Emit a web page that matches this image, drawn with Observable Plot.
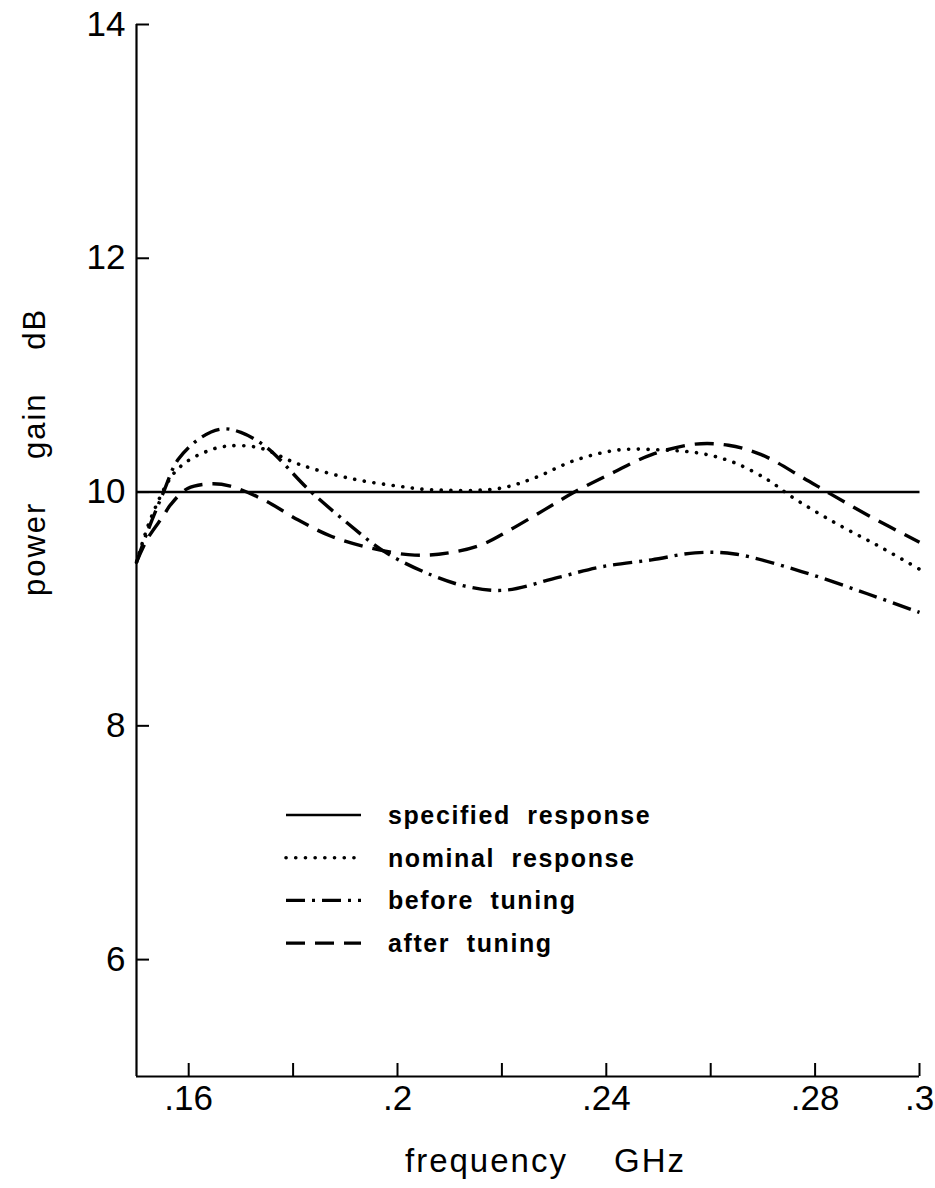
<!DOCTYPE html>
<html><head><meta charset="utf-8">
<script src="https://cdn.jsdelivr.net/npm/d3@7"></script>
<script src="https://cdn.jsdelivr.net/npm/@observablehq/plot@0.6"></script>
<style>
body{margin:0;background:#fff;}
#wrap{position:relative;width:935px;height:1188px;overflow:hidden;}
#wrap svg{display:block;}
#overlay{position:absolute;left:0;top:0;pointer-events:none;}
</style></head><body><div id="wrap"></div>
<script>
// ---- data ----
const xDomain = [0.15, 0.30];
const yDomain = [5, 14];
const xTicks = [0.16, 0.18, 0.20, 0.22, 0.24, 0.26, 0.28, 0.30];
const xTickLabels = [".16", "", ".2", "", ".24", "", ".28", ".3"];
const yTicks = [6, 8, 10, 12, 14];
const yTickLabels = ["6", "8", "10", "12", "14"];
const xTitle = ["frequency", "GHz"];
const yTitle = "power gain dB";
const seriesNames = ["specified response", "nominal response", "before tuning", "after tuning"];

const specFreq = [0.15, 0.30];
const specGain = [10, 10];

const nomFreq = [0.15, 0.1527, 0.1565, 0.159, 0.1625, 0.1668, 0.1734, 0.181, 0.1906, 0.2002, 0.2065, 0.2193, 0.2262, 0.2339, 0.2423, 0.2506, 0.2582, 0.2646, 0.2711, 0.2755, 0.2837, 0.2921, 0.30];
const nomGain = [9.40, 9.77, 10.12, 10.24, 10.33, 10.39, 10.38, 10.24, 10.12, 10.05, 10.02, 10.03, 10.12, 10.27, 10.36, 10.36, 10.33, 10.25, 10.10, 9.96, 9.74, 9.54, 9.34];

const befFreq = [0.15, 0.152, 0.155, 0.158, 0.1625, 0.1665, 0.170, 0.175, 0.183, 0.190, 0.1975, 0.2065, 0.2135, 0.2205, 0.2308, 0.239, 0.2487, 0.257, 0.2646, 0.2774, 0.290, 0.30];
const befGain = [9.40, 9.65, 9.98, 10.28, 10.47, 10.54, 10.51, 10.38, 10.02, 9.75, 9.49, 9.29, 9.19, 9.16, 9.27, 9.36, 9.42, 9.48, 9.47, 9.32, 9.13, 8.97];

const aftFreq = [0.15, 0.1521, 0.1552, 0.1565, 0.1598, 0.1642, 0.168, 0.1745, 0.181, 0.1874, 0.195, 0.2033, 0.2098, 0.2161, 0.2213, 0.2282, 0.2339, 0.241, 0.2487, 0.257, 0.2634, 0.2697, 0.2774, 0.2831, 0.2902, 0.30];
const aftGain = [9.40, 9.60, 9.80, 9.89, 10.03, 10.07, 10.05, 9.93, 9.76, 9.62, 9.52, 9.46, 9.48, 9.55, 9.67, 9.85, 10.00, 10.16, 10.32, 10.41, 10.40, 10.32, 10.13, 9.98, 9.80, 9.57];

// ---- styles ----
const styles = [
  {strokeWidth: 2.6, dash: null, cap: "butt"},
  {strokeWidth: 3.6, dash: "0.1,9.6", cap: "round"},
  {strokeWidth: 3.4, dash: "19,7,3,7", cap: "butt"},
  {strokeWidth: 3.4, dash: "19,10", cap: "butt"}
];
const rows = (name, fs, gs) => fs.map((f, i) => ({series: name, f, g: gs[i]}));
const seriesData = [
  rows(seriesNames[0], specFreq, specGain),
  rows(seriesNames[1], nomFreq, nomGain),
  rows(seriesNames[2], befFreq, befGain),
  rows(seriesNames[3], aftFreq, aftGain)
];

const W = 935, H = 1188;
const font = "'Liberation Sans', Arial, sans-serif";

const plot = Plot.plot({
  width: W, height: H,
  marginLeft: 136, marginRight: 16, marginTop: 24, marginBottom: 112,
  x: {domain: xDomain},
  y: {domain: yDomain},
  style: {fontFamily: font, background: "white", color: "black", overflow: "visible"},
  marks: [
    Plot.ruleX([xDomain[0]], {strokeWidth: 2.2}),
    Plot.ruleY([yDomain[0]], {strokeWidth: 2.2}),
    Plot.axisY(yTicks, {tickSize: -13, tickPadding: 24, strokeWidth: 2, fontSize: 35, label: null,
      tickFormat: d => yTickLabels[yTicks.indexOf(d)]}),
    Plot.axisX(xTicks, {tickSize: -13, tickPadding: 22, strokeWidth: 2, fontSize: 35, label: null,
      tickFormat: d => xTickLabels[xTicks.indexOf(d)]}),
    ...seriesData.map((d, i) => Plot.line(d, {
      x: "f", y: "g", curve: i === 0 ? "linear" : "catmull-rom",
      stroke: "black", strokeWidth: styles[i].strokeWidth,
      strokeDasharray: styles[i].dash, strokeLinecap: styles[i].cap
    }))
  ]
});
const wrap = document.getElementById("wrap");
wrap.appendChild(plot);

// ---- overlay: titles and legend ----
const svg = d3.select(wrap).append("svg").attr("id", "overlay")
  .attr("width", W).attr("height", H)
  .style("font-family", font);

// x title
const xt = svg.append("text").attr("x", 405).attr("y", 1172)
  .attr("font-size", 33).attr("letter-spacing", 2);
xt.append("tspan").text(xTitle[0]);
xt.append("tspan").attr("x", 614).text(xTitle[1]);

// y title
svg.append("text")
  .attr("transform", "translate(45,452) rotate(-90)")
  .attr("text-anchor", "middle")
  .attr("font-size", 31).attr("letter-spacing", 2).attr("word-spacing", 32)
  .text(yTitle);

// legend
const legX1 = 286, legX2 = 361, textX = 388, rowY0 = 815, rowDy = 42.7;
seriesNames.forEach((name, i) => {
  const y = rowY0 + i * rowDy;
  const st = styles[i];
  const ln = svg.append("line").attr("x1", legX1).attr("x2", legX2)
    .attr("y1", y).attr("y2", y).attr("stroke", "black")
    .attr("stroke-width", st.strokeWidth).attr("stroke-linecap", st.cap);
  if (st.dash) ln.attr("stroke-dasharray", st.dash);
  svg.append("text").attr("x", textX).attr("y", y + 9)
    .attr("font-size", 25).attr("font-weight", "bold")
    .attr("letter-spacing", 1.6).attr("word-spacing", 8)
    .text(name);
});
</script></body></html>
